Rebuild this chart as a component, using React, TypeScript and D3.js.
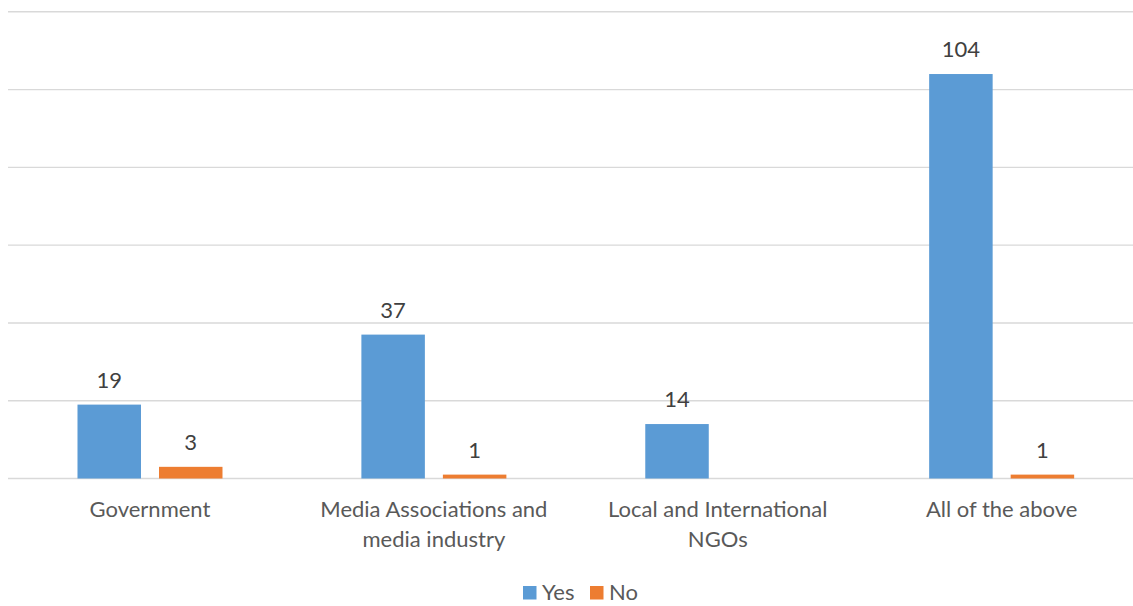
import React from "react";
import * as d3 from "d3";

const categories = ["Government", "Media Associations and media industry", "Local and International NGOs", "All of the above"];
const categoryLines = [["Government"], ["Media Associations and", "media industry"], ["Local and International", "NGOs"], ["All of the above"]];
const seriesNames = ["Yes", "No"];
const yesValues: (number | null)[] = [19, 37, 14, 104];
const noValues: (number | null)[] = [3, 1, null, 1];
const yTicks = [0, 20, 40, 60, 80, 100, 120];

const colors = ["#5B9BD5", "#ED7D31"];
const W = 1133;
const H = 606;
const FONT = "Lato, 'Open Sans', sans-serif";

export default function App() {
  const x0 = d3.scaleBand<string>().domain(categories).range([8.05, 1143.6]).padding(0);
  const w = x0.bandwidth();
  const groupW = 145;
  const x1 = d3
    .scaleBand<string>()
    .domain(seriesNames)
    .range([(w - groupW) / 2, (w + groupW) / 2])
    .paddingInner(0.221)
    .paddingOuter(0);
  const y = d3.scaleLinear().domain([0, 120]).range([478.5, 11.8]);
  const series = [yesValues, noValues];

  return (
    <svg width={W} height={H} style={{ position: "absolute", left: 0, top: 0, background: "#fff" }} fontFamily={FONT}>
      <rect x={0} y={0} width={W} height={H} fill="#fff" />
      {yTicks.map((t) => (
        <line key={t} x1={8} x2={W} y1={y(t)} y2={y(t)} stroke="#D9D9D9" strokeWidth={1.4} />
      ))}
      {categories.map((c, ci) => (
        <g key={c} transform={`translate(${x0(c)},0)`}>
          {series.map((vals, si) => {
            const v = vals[ci];
            if (v == null) return null;
            const bx = x1(seriesNames[si])!;
            const bw = x1.bandwidth();
            return (
              <g key={si}>
                <rect x={bx} y={y(v)} width={bw} height={y(0) - y(v)} fill={colors[si]} />
                <text x={bx + bw / 2} y={y(v) - 17} textAnchor="middle" fontSize={22} fill="#404040">
                  {v}
                </text>
              </g>
            );
          })}
          {categoryLines[ci].map((line, li) => (
            <text key={li} x={w / 2} y={517 + li * 30} textAnchor="middle" fontSize={22} fill="#595959">
              {line}
            </text>
          ))}
        </g>
      ))}
      <g>
        <rect x={523} y={586} width={13.5} height={13.5} fill={colors[0]} />
        <text x={542} y={600} fontSize={22} fill="#595959">Yes</text>
        <rect x={590} y={586} width={13.5} height={13.5} fill={colors[1]} />
        <text x={609} y={600} fontSize={22} fill="#595959">No</text>
      </g>
    </svg>
  );
}
